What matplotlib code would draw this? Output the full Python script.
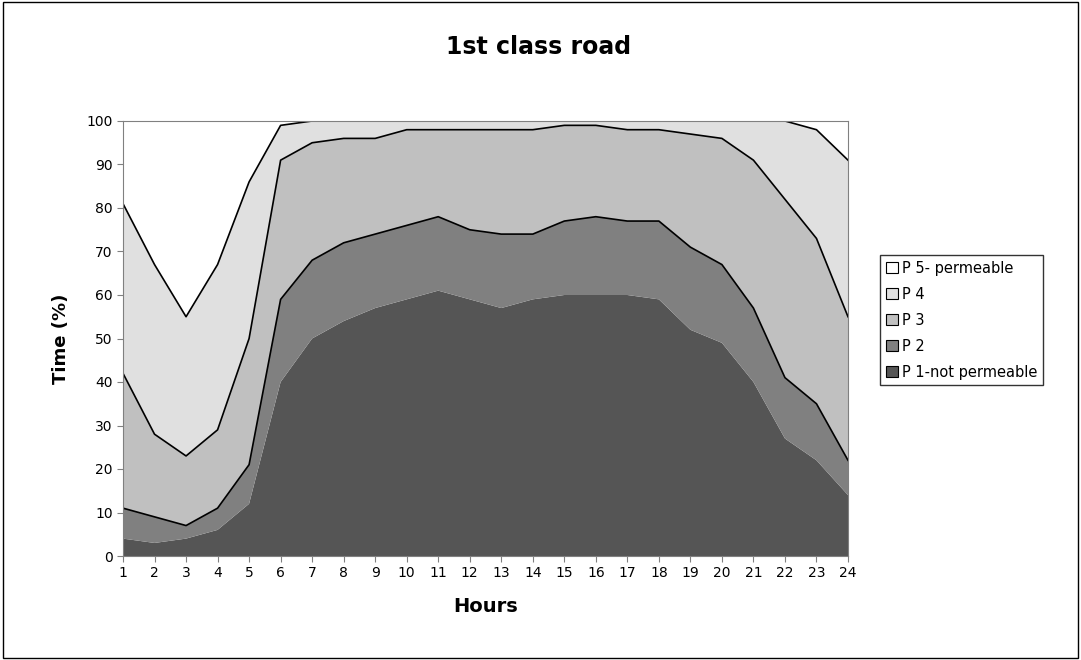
import matplotlib
matplotlib.use("Agg")
import matplotlib.pyplot as plt
from matplotlib.patches import Rectangle
import numpy as np

hours = list(range(1, 25))
# cumulative tops of each band
cum_p1 = [4, 3, 4, 6, 12, 40, 50, 54, 57, 59, 61, 59, 57, 59, 60, 60, 60, 59, 52, 49, 40, 27, 22, 14]
cum_p2 = [11, 9, 7, 11, 21, 59, 68, 72, 74, 76, 78, 75, 74, 74, 77, 78, 77, 77, 71, 67, 57, 41, 35, 22]
cum_p3 = [42, 28, 23, 29, 50, 91, 95, 96, 96, 98, 98, 98, 98, 98, 99, 99, 98, 98, 97, 96, 91, 82, 73, 55]
cum_p4 = [81, 67, 55, 67, 86, 99, 100, 100, 100, 100, 100, 100, 100, 100, 100, 100, 100, 100, 100, 100, 100, 100, 98, 91]

p1 = np.array(cum_p1)
p2 = np.array(cum_p2) - p1
p3 = np.array(cum_p3) - np.array(cum_p2)
p4 = np.array(cum_p4) - np.array(cum_p3)
p5 = 100 - np.array(cum_p4)

labels = ["P 1-not permeable", "P 2", "P 3", "P 4", "P 5- permeable"]
colors = ["#555555", "#808080", "#c0c0c0", "#e0e0e0", "#ffffff"]

plt.rcParams["font.family"] = ["DejaVu Sans"]
fig = plt.figure(figsize=(10.81, 6.6), dpi=100)
fig.patches.append(Rectangle((0.003, 0.003), 0.994, 0.994, transform=fig.transFigure,
                             fill=False, edgecolor="black", linewidth=1))
ax = fig.add_axes([123 / 1081, 1 - 556 / 660, (848 - 123) / 1081, (556 - 121) / 660])

ax.stackplot(hours, p1, p2, p3, p4, p5, colors=colors, labels=labels, linewidth=0)
for cum in (cum_p2, cum_p3, cum_p4):
    ax.plot(hours, cum, color="black", linewidth=1.2)

ax.set_xlim(1, 24)
ax.set_ylim(0, 100)
ax.set_xticks(hours)
ax.set_yticks(range(0, 101, 10))
ax.tick_params(labelsize=10, length=4, direction="out", color="#808080")
for s in ax.spines.values():
    s.set_color("#808080")
ax.set_xlabel("Hours", fontsize=14, fontweight="bold", labelpad=12)
ax.set_ylabel("Time (%)", fontsize=13, fontweight="bold", labelpad=12)
fig.text(0.498, 0.929, "1st class road", ha="center", va="center", fontsize=17, fontweight="bold")

handles, lbls = ax.get_legend_handles_labels()
leg = fig.legend(handles[::-1], lbls[::-1], loc="upper left", bbox_to_anchor=(880 / 1081, 1 - 255 / 660),
                 fontsize=10.5, frameon=True, fancybox=False, edgecolor="black",
                 handlelength=0.8, handleheight=0.8, handletextpad=0.3, labelspacing=0.75,
                 borderpad=0.4, borderaxespad=0)
for h in leg.legend_handles:
    h.set_edgecolor("black")
    h.set_linewidth(0.8)

fig.savefig("out.png", dpi=100)
